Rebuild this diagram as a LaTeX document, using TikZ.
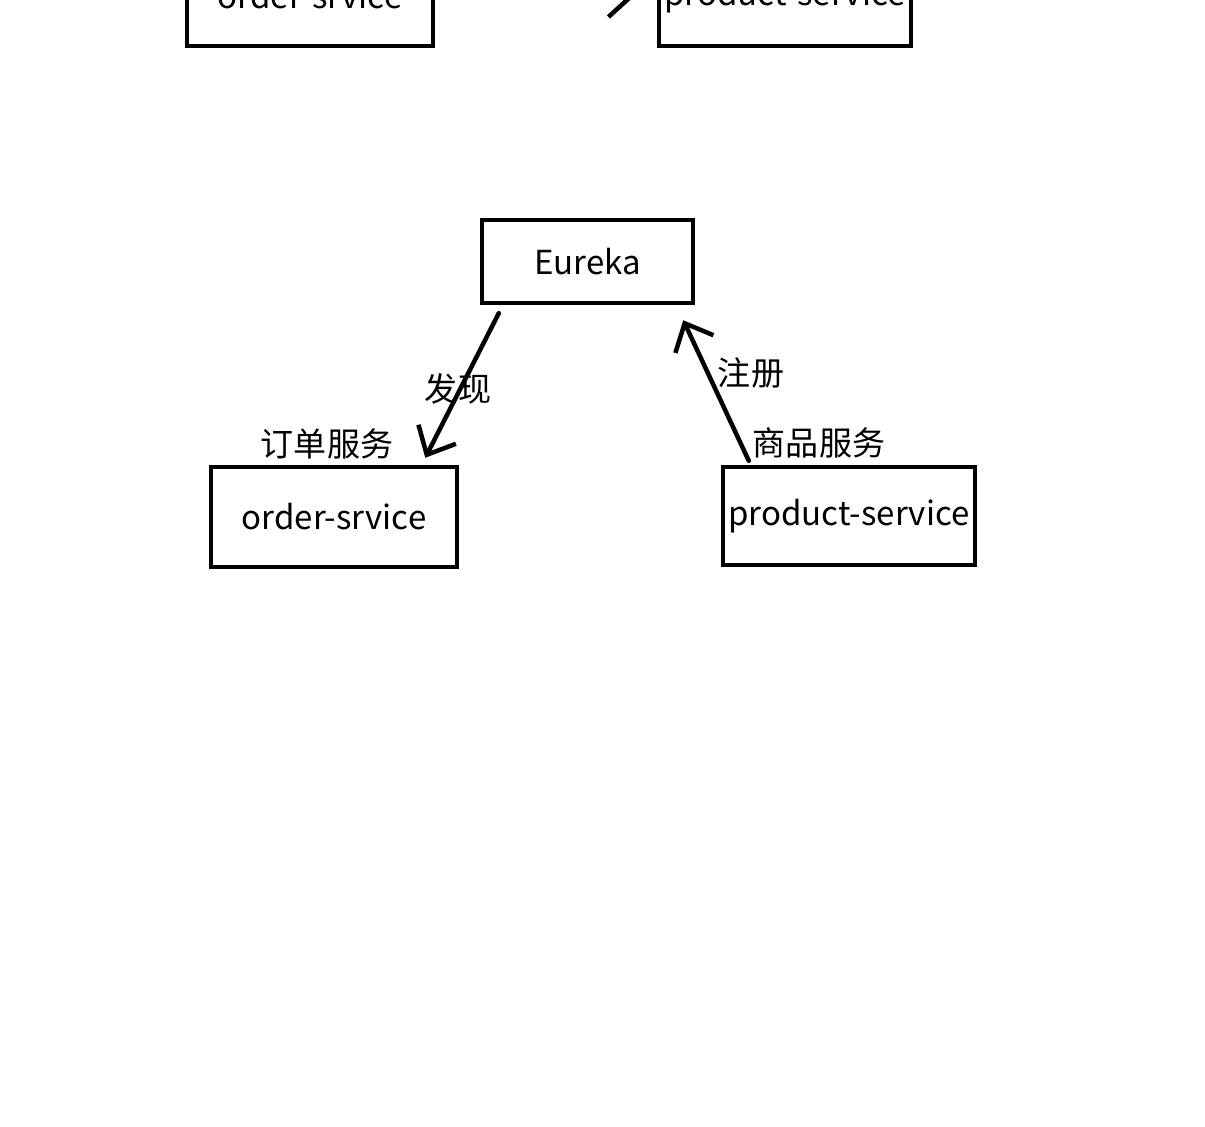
\documentclass[tikz,border=0pt]{standalone}
\usepackage{fontspec}
\setmainfont{Noto Sans CJK SC}
\usetikzlibrary{arrows.meta}
\begin{document}
\begin{tikzpicture}[
  box/.style={draw,line width=0.45mm,inner sep=0pt,font=\fontsize{9.4}{11}\selectfont},
  lbl/.style={inner sep=0pt,font=\fontsize{9.4}{11}\selectfont},
  link/.style={line width=0.45mm,line cap=round,-{Straight Barb[length=2.3mm,width=4.2mm]}}]
\useasboundingbox (0,0) rectangle (12.05,-11.27);
\clip (0,0) rectangle (12.05,-11.27);
\node[box,minimum width=2.46cm,minimum height=1.0cm] (ordertop) at (3.10,0.04) {order-srvice};
\node[box,minimum width=2.52cm,minimum height=1.0cm] (producttop) at (7.85,0.04) {product-service};
\draw[link,shorten >=2.2mm] (ordertop) -- (producttop);
\node[box,minimum width=2.11cm,minimum height=0.83cm] (eureka) at (5.875,-2.615) {Eureka};
\node[box,minimum width=2.46cm,minimum height=1.0cm] (order) at (3.34,-5.17) {order-srvice};
\node[box,minimum width=2.52cm,minimum height=0.98cm] (product) at (8.49,-5.16) {product-service};
\draw[link] ([xshift=1.9mm,yshift=-0.8mm]eureka.south west) -- ([xshift=-3.4mm,yshift=0.7mm]order.north east);
\draw[link] ([xshift=2.8mm,yshift=0.4mm]product.north west) -- ([xshift=-1.2mm,yshift=-1.5mm]eureka.south east);
\node[lbl] (faxian) at (4.58,-3.89) {发现};
\node[lbl] (zhuce) at (7.51,-3.73) {注册};
\node[lbl] (orderlbl) at (3.27,-4.44) {订单服务};
\node[lbl] (productlbl) at (8.19,-4.43) {商品服务};
\end{tikzpicture}
\end{document}
